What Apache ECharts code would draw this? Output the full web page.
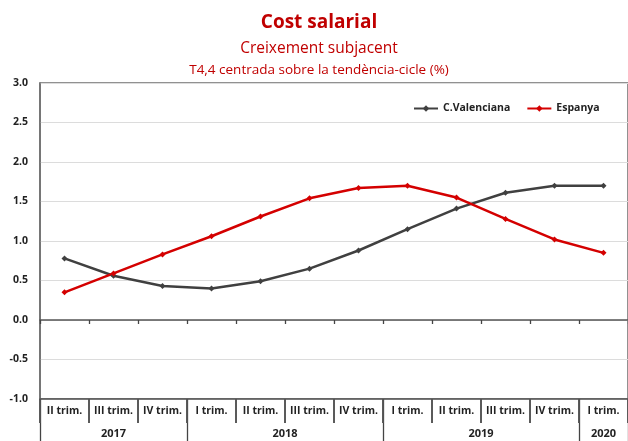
<!DOCTYPE html>
<html>
<head>
<meta charset="utf-8">
<script src="https://cdn.jsdelivr.net/npm/echarts@6/dist/echarts.min.js"></script>
<style>
  html, body { margin: 0; padding: 0; background: #fff; }
  #chart { width: 628px; height: 441px; }
</style>
</head>
<body>
<div id="chart"></div>
<script>
// trimestres i anys
const quarters = ['II trim.', 'III trim.', 'IV trim.', 'I trim.', 'II trim.', 'III trim.', 'IV trim.',
  'I trim.', 'II trim.', 'III trim.', 'IV trim.', 'I trim.'];
const years = ['2017', '2018', '2019', '2020'];
const yearBounds = [0, 3, 7, 11, 12]; // límits dels grups d'anys (en trimestres)
const yearCenters = [1.5, 5, 9, 11.5];

// creixement subjacent (%)
const cValenciana = [0.78, 0.56, 0.43, 0.40, 0.49, 0.65, 0.88, 1.15, 1.41, 1.61, 1.70, 1.70];
const espanya = [0.35, 0.59, 0.83, 1.06, 1.31, 1.54, 1.67, 1.70, 1.55, 1.28, 1.02, 0.85];

const yTicks = { min: -1, max: 3, step: 0.5 };

const FONT = 'Open Sans';
const chart = echarts.init(document.getElementById('chart'));
const option = {
  animation: false,
  textStyle: { fontFamily: FONT },
  title: [
    {
      text: 'Cost salarial', left: 314, top: 8, textAlign: 'center',
      textStyle: { color: '#c00000', fontSize: 19, fontWeight: 'bold', fontFamily: FONT }
    },
    {
      text: 'Creixement subjacent', left: 314, top: 36, textAlign: 'center',
      textStyle: { color: '#c00000', fontSize: 15.5, fontWeight: 'normal', fontFamily: FONT }
    },
    {
      text: 'T4,4 centrada sobre la tendència-cicle (%)', left: 314, top: 58, textAlign: 'center',
      textStyle: { color: '#c00000', fontSize: 13.5, fontWeight: 'normal', fontFamily: FONT }
    }
  ],
  legend: {
    left: 408, top: 98,
    itemWidth: 24, itemHeight: 8, itemGap: 16,
    textStyle: { fontSize: 10.5, fontWeight: 'bold', color: '#222', fontFamily: FONT },
    data: ['C.Valenciana', 'Espanya']
  },
  grid: {
    left: 40, top: 83, width: 593, height: 316,
    show: true, borderColor: '#6e6e6e', borderWidth: 1.5
  },
  xAxis: [
    {
      type: 'category', data: quarters, position: 'bottom',
      axisLine: { onZero: false, lineStyle: { color: '#555', width: 1.5 } },
      axisTick: { show: true, interval: 0, length: 24, lineStyle: { color: '#555', width: 1.6 } },
      axisLabel: { interval: 0, margin: 7, fontSize: 10.5, fontWeight: 'bold', color: '#222' },
      splitLine: { show: false }
    },
    {
      // separadors i etiquetes d'any
      type: 'value', min: 0, max: 12, position: 'bottom',
      axisLine: { show: false, onZero: false },
      axisTick: { show: true, customValues: yearBounds, length: 50, lineStyle: { color: '#444', width: 1.3 } },
      axisLabel: {
        customValues: yearCenters, margin: 29, fontSize: 11, fontWeight: 'bold', color: '#222',
        formatter: function (v) { return years[yearCenters.indexOf(v)]; }
      },
      splitLine: { show: false }
    },
    {
      // línia del zero
      type: 'category', data: quarters, position: 'bottom',
      axisLine: { onZero: true, lineStyle: { color: '#555', width: 1.5 } },
      axisTick: { show: true, interval: 0, length: 4, lineStyle: { color: '#444', width: 1.3 } },
      axisLabel: { show: false },
      splitLine: { show: false }
    },
    {
      // separadors de trimestre
      type: 'value', min: 0, max: 12, interval: 1, position: 'bottom',
      axisLine: { show: false, onZero: false },
      axisTick: { show: true, length: 24, lineStyle: { color: '#555', width: 1.6 } },
      axisLabel: { show: false },
      splitLine: { show: false }
    }
  ],
  yAxis: {
    type: 'value', min: yTicks.min, max: yTicks.max, interval: yTicks.step,
    axisLine: { show: true, lineStyle: { color: '#6e6e6e', width: 1.5 } },
    axisTick: { show: false },
    axisLabel: {
      margin: 12, fontSize: 10.5, fontWeight: 'bold', color: '#222',
      formatter: function (v) { return v.toFixed(1); }
    },
    splitLine: { show: true, lineStyle: { color: '#dcdcdc', width: 1 } }
  },
  series: [
    {
      name: 'C.Valenciana', type: 'line', data: cValenciana, xAxisIndex: 0,
      symbol: 'diamond', symbolSize: 6,
      lineStyle: { color: '#404040', width: 2.5 },
      itemStyle: { color: '#404040' }
    },
    {
      name: 'Espanya', type: 'line', data: espanya, xAxisIndex: 0,
      symbol: 'diamond', symbolSize: 6,
      lineStyle: { color: '#d40000', width: 2.5 },
      itemStyle: { color: '#d40000' }
    }
  ]
};
chart.setOption(option);
</script>
</body>
</html>
